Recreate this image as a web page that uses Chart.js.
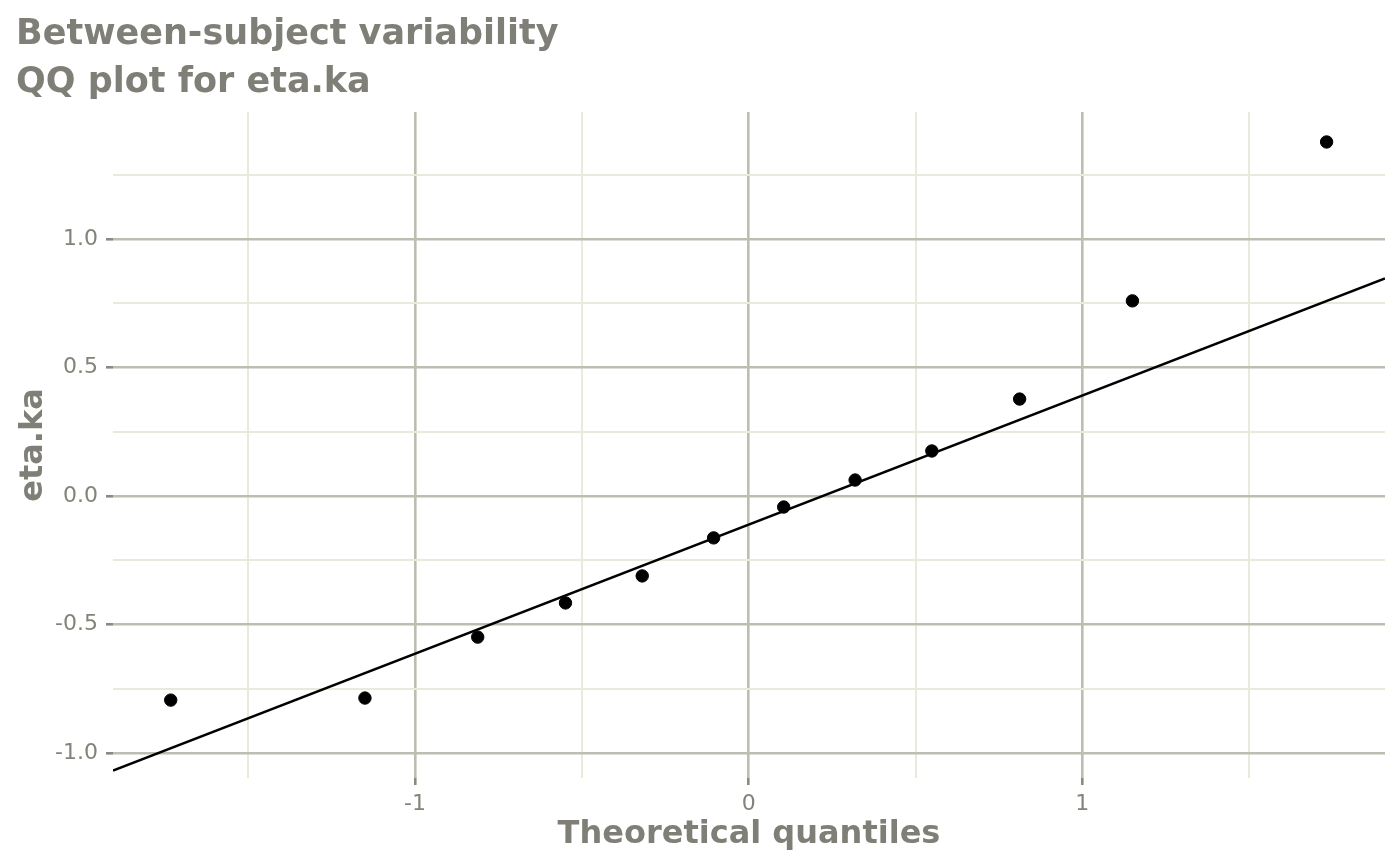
<!DOCTYPE html>
<html><head><meta charset="utf-8">
<script src="https://cdn.jsdelivr.net/npm/chart.js@4.4.0/dist/chart.umd.min.js"></script>
<style>html,body{margin:0;padding:0;background:#fff}</style>
</head><body>
<canvas id="c" width="1400" height="866" style="width:1400px;height:866px;display:block"></canvas>
<script>
// Data
const theoreticalQuantiles = [-1.732, -1.150, -0.812, -0.549, -0.319, -0.105, 0.105, 0.319, 0.549, 0.812, 1.150, 1.732];
const etaKa = [-0.794, -0.786, -0.549, -0.416, -0.311, -0.163, -0.043, 0.062, 0.175, 0.377, 0.759, 1.377];
const refLineX = [-1.905, 1.907];
const refLineY = [-1.068, 0.846];
const xTicks = [-1.5, -1, -0.5, 0, 0.5, 1, 1.5];
const xMajor = [-1, 0, 1];
const yTicks = [-1, -0.75, -0.5, -0.25, 0, 0.25, 0.5, 0.75, 1, 1.25];
const yMajor = [-1, -0.5, 0, 0.5, 1];
const titleLines = ['Between-subject variability', 'QQ plot for eta.ka'];
const xTitle = 'Theoretical quantiles';
const yTitle = 'eta.ka';

const MAJOR = '#bdbdb1', MINOR = '#eaeadc', TXT = '#7f7f77', TICKTXT = '#838379';
const isMaj = (arr, v) => arr.some(m => Math.abs(m - v) < 1e-9);

const points = theoreticalQuantiles.map((x, i) => ({x, y: etaKa[i]}));
const line = refLineX.map((x, i) => ({x, y: refLineY[i]}));

new Chart(document.getElementById('c'), {
  type: 'scatter',
  data: {
    datasets: [
      {data: line, showLine: true, borderColor: '#000', borderWidth: 2.5, pointRadius: 0, fill: false, order: 2},
      {data: points, backgroundColor: '#000', borderColor: '#000', pointRadius: 6.2, pointHoverRadius: 6.2, order: 1}
    ]
  },
  options: {
    responsive: false,
    animation: false,
    events: [],
    layout: {padding: {left: 16, right: 15, top: 0, bottom: 0}},
    plugins: {
      legend: {display: false},
      tooltip: {enabled: false},
      title: {
        display: true, text: titleLines, align: 'start', color: TXT,
        font: {family: 'DejaVu Sans', size: 35, weight: 'bold', lineHeight: 1.37},
        padding: {top: 11, bottom: 5}
      }
    },
    scales: {
      x: {
        type: 'linear', min: -1.905, max: 1.907,
        afterBuildTicks: s => { s.ticks = xTicks.map(v => ({value: v})); },
        afterFit: s => { s.height = 88; },
        border: {display: false},
        grid: {
          color: c => isMaj(xMajor, c.tick.value) ? MAJOR : MINOR,
          lineWidth: c => isMaj(xMajor, c.tick.value) ? 2.6 : 2,
          tickColor: c => isMaj(xMajor, c.tick.value) ? '#8a8a80' : 'rgba(0,0,0,0)',
          tickLength: 7, tickWidth: 2.6, drawTicks: true
        },
        ticks: {
          autoSkip: false, maxRotation: 0, padding: 6, color: TICKTXT,
          font: {family: 'DejaVu Sans', size: 22},
          callback: v => isMaj(xMajor, v) ? String(v) : ''
        },
        title: {
          display: true, text: xTitle, color: TXT,
          font: {family: 'DejaVu Sans', size: 32, weight: 'bold', lineHeight: 1.2},
          padding: {top: 0, bottom: 12}
        }
      },
      y: {
        type: 'linear', min: -1.097, max: 1.494,
        afterBuildTicks: s => { s.ticks = yTicks.map(v => ({value: v})); },
        afterFit: s => { s.width = 97; },
        border: {display: false},
        grid: {
          color: c => isMaj(yMajor, c.tick.value) ? MAJOR : MINOR,
          lineWidth: c => isMaj(yMajor, c.tick.value) ? 2.6 : 2,
          tickColor: c => isMaj(yMajor, c.tick.value) ? '#8a8a80' : 'rgba(0,0,0,0)',
          tickLength: 7, tickWidth: 2.6, drawTicks: true
        },
        ticks: {
          autoSkip: false, padding: 8, color: TICKTXT,
          font: {family: 'DejaVu Sans', size: 22},
          callback: v => isMaj(yMajor, v) ? v.toFixed(1) : ''
        },
        title: {
          display: true, text: yTitle, color: TXT,
          font: {family: 'DejaVu Sans', size: 32, weight: 'bold', lineHeight: 1.1},
          padding: {top: 0, bottom: 0}
        }
      }
    }
  }
});
</script>
</body></html>
